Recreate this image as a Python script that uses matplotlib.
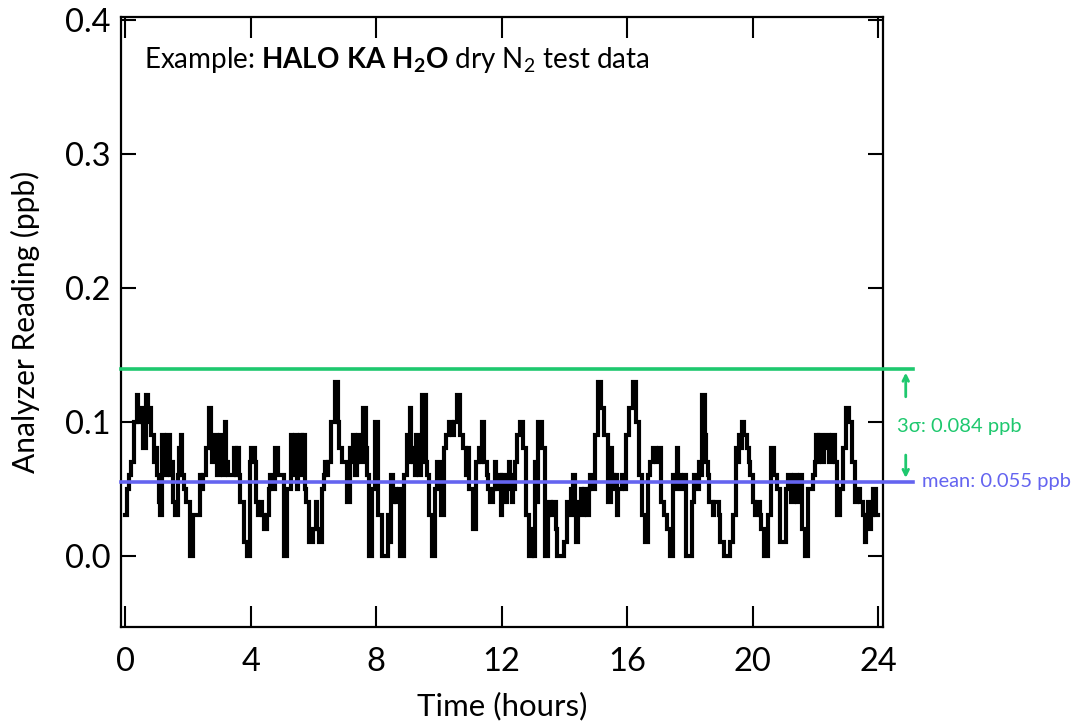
import matplotlib
matplotlib.use("Agg")
import matplotlib.pyplot as plt
import numpy as np

# readings (hundredths of ppb) every 0.1 h, 0..24 h: main level in each slot
reading_hundredths = [
    3, 5, 7, 10, 12, 11, 8, 12, 11, 9,
    8, 4, 9, 6, 9, 7, 3, 6, 9, 5,
    4, 0, 3, 3, 6, 6, 8, 11, 7, 9,
    6, 9, 10, 6, 6, 8, 8, 4, 1, 0,
    7, 8, 4, 3, 3, 2, 5, 6, 8, 6,
    6, 0, 5, 9, 6, 5, 9, 9, 4, 1,
    2, 4, 1, 5, 7, 7, 10, 13, 10, 8,
    7, 4, 8, 9, 7, 9, 11, 8, 0, 5,
    10, 3, 0, 0, 3, 6, 5, 4, 0, 6,
    9, 11, 7, 9, 6, 12, 7, 3, 0, 5,
    7, 3, 8, 9, 10, 10, 12, 9, 8, 6,
    5, 2, 7, 8, 10, 7, 5, 4, 7, 5,
    3, 6, 5, 6, 5, 9, 10, 8, 3, 0,
    2, 7, 10, 8, 0, 3, 3, 4, 0, 0,
    1, 4, 3, 6, 1, 4, 3, 4, 5, 6,
    9, 13, 11, 9, 4, 8, 5, 3, 5, 6,
    9, 11, 13, 10, 6, 3, 1, 6, 7, 8,
    7, 4, 3, 2, 0, 6, 8, 6, 5, 0,
    0, 4, 6, 7, 12, 9, 6, 4, 4, 4,
    1, 0, 0, 1, 3, 8, 9, 10, 9, 7,
    6, 3, 4, 2, 0, 3, 8, 6, 5, 1,
    1, 5, 6, 4, 6, 5, 2, 0, 5, 5,
    7, 7, 9, 8, 9, 7, 9, 3, 5, 8,
    11, 10, 7, 4, 5, 4, 1, 4, 3, 5,
    3,
]
# second (flicker) level seen in the same slot
flicker_hundredths = [
    3, 6, 7, 10, 10, 10, 8, 10, 9, 7,
    6, 3, 6, 9, 6, 4, 3, 8, 6, 4,
    4, 0, 3, 3, 5, 6, 8, 8, 9, 6,
    9, 6, 7, 6, 6, 6, 6, 4, 1, 0,
    8, 7, 3, 4, 2, 3, 6, 5, 8, 6,
    6, 0, 5, 6, 9, 8, 6, 5, 4, 1,
    2, 2, 1, 6, 6, 7, 10, 13, 8, 7,
    7, 4, 7, 6, 9, 7, 11, 6, 0, 5,
    10, 3, 0, 0, 1, 4, 4, 5, 0, 6,
    7, 8, 6, 7, 7, 12, 6, 3, 0, 7,
    6, 3, 9, 10, 9, 10, 12, 9, 8, 8,
    5, 2, 7, 7, 7, 6, 4, 5, 5, 6,
    6, 4, 7, 4, 7, 9, 10, 8, 3, 0,
    0, 4, 10, 8, 0, 4, 4, 2, 0, 0,
    1, 3, 5, 3, 4, 5, 5, 3, 6, 5,
    9, 13, 11, 9, 4, 6, 6, 5, 6, 5,
    9, 11, 13, 10, 6, 3, 1, 7, 8, 7,
    8, 4, 3, 2, 0, 5, 6, 5, 6, 0,
    0, 6, 5, 6, 12, 7, 4, 3, 4, 3,
    1, 0, 0, 1, 3, 7, 8, 9, 8, 6,
    4, 4, 3, 2, 0, 3, 8, 6, 5, 1,
    1, 6, 4, 6, 4, 6, 2, 0, 5, 6,
    9, 9, 7, 9, 7, 9, 7, 3, 5, 8,
    11, 10, 7, 5, 4, 3, 3, 2, 5, 3,
    4,
]
time_step_h = 0.1
mean_ppb = 0.055
three_sigma_ppb = 0.084
x_ticks = [0, 4, 8, 12, 16, 20, 24]
y_ticks = [0.0, 0.1, 0.2, 0.3, 0.4]

main = np.array(reading_hundredths) / 100.0
flick = np.array(flicker_hundredths) / 100.0
n = len(main)
t_main = np.arange(n) * time_step_h
t_flick = t_main + time_step_h / 2
times = np.empty(2 * n - 1)
vals = np.empty(2 * n - 1)
times[0::2] = t_main
vals[0::2] = main
times[1::2] = t_flick[:-1]
vals[1::2] = flick[:-1]

plt.rcParams['font.family'] = ['Lato', 'DejaVu Sans']
plt.rcParams['mathtext.fontset'] = 'custom'
plt.rcParams['mathtext.rm'] = 'Lato'
plt.rcParams['mathtext.it'] = 'Lato:italic'
plt.rcParams['mathtext.bf'] = 'Lato:bold'

fig = plt.figure(figsize=(10.74, 7.25), dpi=100)
ax = fig.add_axes([0.113, 0.1345, 0.709, 0.8425])

ax.plot(times, vals, color='black', lw=3.0, drawstyle='steps-mid',
        solid_joinstyle='miter', zorder=3)

green = '#1ec86e'
blue = '#6464f0'
xl, xr = -0.12, 25.1
ax.plot([xl, xr], [mean_ppb + three_sigma_ppb] * 2, color=green, lw=2.6,
        clip_on=False, zorder=4)
ax.plot([xl, xr], [mean_ppb] * 2, color=blue, lw=2.6, clip_on=False, zorder=4)

ax.set_xlim(-0.12, 24.15)
ax.set_ylim(-0.0536, 0.4023)
ax.set_xticks(x_ticks)
ax.set_yticks(y_ticks)
ax.set_yticklabels([f"{v:.1f}" for v in y_ticks])
ax.tick_params(axis='x', direction='in', length=15, width=1.5, top=True,
               labelsize=23.5, pad=14)
ax.tick_params(axis='y', direction='in', length=10.5, width=1.5, right=True,
               labelsize=23.5, pad=8)
for s in ax.spines.values():
    s.set_linewidth(1.6)

ax.set_xlabel('Time (hours)', fontsize=22.5, labelpad=11)
ax.set_ylabel('Analyzer Reading (ppb)', fontsize=21.5, labelpad=18)

ax.text(0.03, 0.929,
        r'Example: $\mathbf{HALO\ KA\ H_2O}$ dry N$_2$ test data',
        transform=ax.transAxes, fontsize=20, va='center', ha='left')

# arrows
xa = 24.88
ax.annotate('', xy=(xa, 0.1366), xytext=(xa, 0.1186),
            arrowprops=dict(arrowstyle='->', color=green, lw=2,
                            shrinkA=0, shrinkB=0),
            annotation_clip=False)
ax.annotate('', xy=(xa, 0.058), xytext=(xa, 0.0751),
            arrowprops=dict(arrowstyle='->', color=green, lw=2,
                            shrinkA=0, shrinkB=0),
            annotation_clip=False)
ax.text(24.6, 0.0965, '3σ: 0.084 ppb', color=green, fontsize=14.5,
        va='center', ha='left', clip_on=False)
ax.text(25.39, mean_ppb, 'mean: 0.055 ppb', color=blue, fontsize=14.5,
        va='center', ha='left', clip_on=False)

fig.savefig('out.png', dpi=100)
